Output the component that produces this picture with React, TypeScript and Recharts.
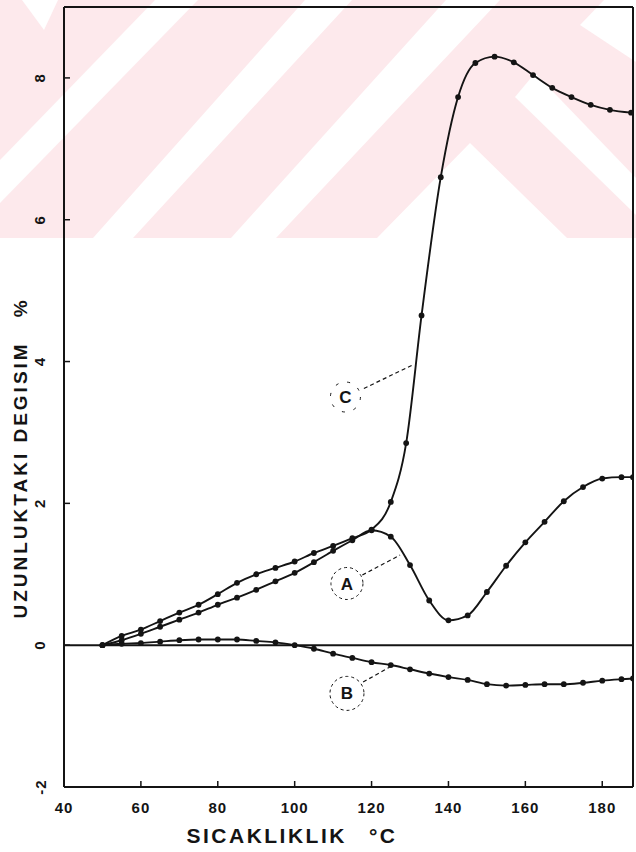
import React from "react";
import { LineChart, Line, XAxis, YAxis, ReferenceLine, ReferenceDot } from "recharts";

// axis ticks
const xTicks = [40, 60, 80, 100, 120, 140, 160, 180];
const yTicks = [-2, 0, 2, 4, 6, 8];

// curve A
const tempA = [50, 55, 60, 65, 70, 75, 80, 85, 90, 95, 100, 105, 110, 115, 120, 125, 130, 135, 140, 145, 150, 155, 160, 165, 170, 175, 180, 185, 188];
const valA = [0, 0.07, 0.16, 0.26, 0.36, 0.46, 0.57, 0.67, 0.78, 0.9, 1.02, 1.17, 1.33, 1.48, 1.62, 1.53, 1.13, 0.63, 0.35, 0.42, 0.75, 1.12, 1.45, 1.74, 2.03, 2.23, 2.35, 2.37, 2.37];

// curve B
const tempB = [50, 55, 60, 65, 70, 75, 80, 85, 90, 95, 100, 105, 110, 115, 120, 125, 130, 135, 140, 145, 150, 155, 160, 165, 170, 175, 180, 185, 188];
const valB = [0, 0.02, 0.03, 0.05, 0.07, 0.08, 0.08, 0.08, 0.06, 0.04, 0, -0.05, -0.12, -0.18, -0.24, -0.28, -0.34, -0.4, -0.45, -0.49, -0.55, -0.57, -0.56, -0.55, -0.55, -0.53, -0.5, -0.48, -0.47];

// curve C
const tempC = [50, 55, 60, 65, 70, 75, 80, 85, 90, 95, 100, 105, 110, 115, 120, 125, 129, 133, 138, 142.5, 147, 152, 157, 162, 167, 172, 177, 182, 187.5];
const valC = [0, 0.13, 0.22, 0.34, 0.46, 0.57, 0.72, 0.88, 1.0, 1.09, 1.18, 1.3, 1.4, 1.51, 1.63, 2.02, 2.85, 4.65, 6.6, 7.73, 8.21, 8.3, 8.22, 8.04, 7.86, 7.73, 7.62, 7.55, 7.51];

const toPoints = (t: number[], v: number[]) => t.map((x, i) => ({ t: x, v: v[i] }));

const INK = "#141414";
const FONT = "Liberation Sans, Arial, sans-serif";

const renderXTick = (props: any) => {
  const { x, y, payload } = props;
  return (
    <text key={`xt-${payload.value}`} x={x} y={y} textAnchor="middle" dominantBaseline="central" fontFamily={FONT} fontWeight={700} fontSize={15} letterSpacing={1} fill={INK}>
      {payload.value}
    </text>
  );
};

const renderYTick = (props: any) => {
  const { x, y, payload } = props;
  return (
    <text
      key={`yt-${payload.value}`}
      x={x}
      y={y}
      transform={`rotate(-90, ${x}, ${y})`}
      textAnchor="middle"
      dominantBaseline="central"
      fontFamily={FONT}
      fontWeight={700}
      fontSize={15}
      letterSpacing={1}
      fill={INK}
    >
      {payload.value}
    </text>
  );
};

function XTitle() {
  return (
    <text x={292} y={835} textAnchor="middle" dominantBaseline="central" fontFamily={FONT} fontWeight={700} fontSize={21} letterSpacing={2.5} fill={INK}>
      SICAKLIKLIK
      <tspan dx={22}>°C</tspan>
    </text>
  );
}

function YTitle() {
  return (
    <text
      x={20}
      y={458}
      transform="rotate(-90, 20, 458)"
      textAnchor="middle"
      dominantBaseline="central"
      fontFamily={FONT}
      fontWeight={700}
      fontSize={19}
      letterSpacing={3}
      fill={INK}
    >
      UZUNLUKTAKI DEGISIM
      <tspan dx={24}>%</tspan>
    </text>
  );
}

function Watermark() {
  return (
    <svg width={636} height={852} style={{ position: "absolute", left: 0, top: 0 }}>
      <rect x={0} y={0} width={636} height={238} fill="#fde9ec" />
      <g fill="#ffffff">
        <polygon points="0,160 0,203 198,0 155,0" />
        <polygon points="93,238 133,238 352,0 305,0" />
        <polygon points="231,238 276,238 500,0 446,0" />
        <polygon points="377,238 470,143 567,238" />
        <polygon points="515,97 535,73 636,178 636,215" />
        <polygon points="580,25 604,0 636,0 636,62" />
        <polygon points="22,0 58,0 44,30" />
      </g>
    </svg>
  );
}

export default function App() {
  const dataA = toPoints(tempA, valA);
  const dataB = toPoints(tempB, valB);
  const dataC = toPoints(tempC, valC);
  const dot = { r: 2.9, fill: INK, stroke: INK, strokeWidth: 0 };
  const axisLine = { stroke: INK, strokeWidth: 2 };
  const tickLine = { stroke: INK, strokeWidth: 1.5 };
  const circleLabel = { position: "center" as const, fontSize: 17, fontWeight: "bold", fill: INK, fontFamily: FONT };

  return (
    <div style={{ position: "absolute", left: 0, top: 0, width: 636, height: 852, background: "#fff" }}>
      <Watermark />
      <div style={{ position: "absolute", left: 0, top: 0 }}>
        <LineChart width={636} height={852} margin={{ top: 6, right: 2, bottom: 64, left: 63 }}>
          <XAxis
            dataKey="t"
            type="number"
            domain={[40, 188]}
            ticks={xTicks}
            height={1}
            tickSize={-6}
            tickMargin={26}
            tick={renderXTick}
            axisLine={axisLine}
            tickLine={tickLine}
            allowDataOverflow
            label={<XTitle />}
          />
          <XAxis
            xAxisId="top"
            orientation="top"
            dataKey="t"
            type="number"
            domain={[40, 188]}
            ticks={xTicks}
            height={1}
            tickSize={-6}
            tick={false}
            axisLine={axisLine}
            tickLine={tickLine}
            allowDataOverflow
          />
          <YAxis
            type="number"
            domain={[-2, 9]}
            ticks={yTicks}
            width={1}
            tickSize={-6}
            tickMargin={30}
            tick={renderYTick}
            axisLine={axisLine}
            tickLine={tickLine}
            allowDataOverflow
            label={<YTitle />}
          />
          <YAxis
            yAxisId="right"
            orientation="right"
            type="number"
            domain={[-2, 9]}
            ticks={yTicks}
            width={1}
            tickSize={-6}
            tick={false}
            axisLine={axisLine}
            tickLine={tickLine}
            allowDataOverflow
          />
          <ReferenceLine y={0} stroke={INK} strokeWidth={2} />
          <Line data={dataB} dataKey="v" type="monotone" stroke={INK} strokeWidth={1.9} dot={dot} isAnimationActive={false} />
          <Line data={dataA} dataKey="v" type="monotone" stroke={INK} strokeWidth={1.9} dot={dot} isAnimationActive={false} />
          <Line data={dataC} dataKey="v" type="monotone" stroke={INK} strokeWidth={1.9} dot={dot} isAnimationActive={false} />

          <ReferenceLine segment={[{ x: 118, y: 3.62 }, { x: 130.6, y: 3.95 }]} stroke={INK} strokeWidth={1.2} strokeDasharray="4 3" />
          <ReferenceLine segment={[{ x: 117.6, y: 0.99 }, { x: 127.4, y: 1.27 }]} stroke={INK} strokeWidth={1.2} strokeDasharray="4 3" />
          <ReferenceLine segment={[{ x: 117.8, y: -0.52 }, { x: 124.7, y: -0.31 }]} stroke={INK} strokeWidth={1.2} strokeDasharray="4 3" />

          <ReferenceDot x={113.2} y={3.5} r={15} fill="none" stroke={INK} strokeWidth={1} strokeDasharray="3 9" label={{ value: "C", ...circleLabel }} />
          <ReferenceDot x={113.6} y={0.87} r={16} fill="none" stroke={INK} strokeWidth={1} strokeDasharray="3 3" label={{ value: "A", ...circleLabel }} />
          <ReferenceDot x={113.6} y={-0.68} r={17} fill="none" stroke={INK} strokeWidth={1} strokeDasharray="3 3" label={{ value: "B", ...circleLabel }} />
        </LineChart>
      </div>
    </div>
  );
}
